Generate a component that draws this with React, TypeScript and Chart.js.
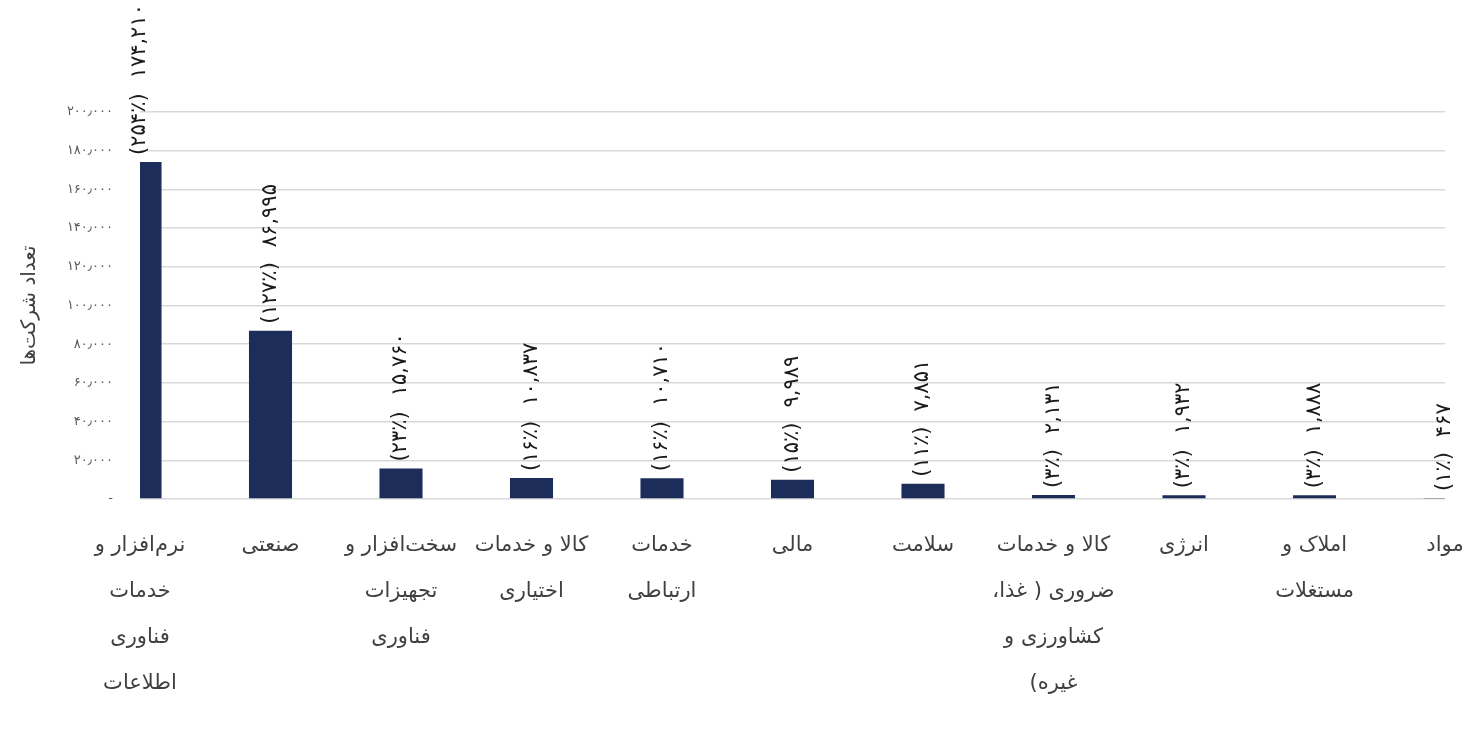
import { useEffect, useRef } from 'react';
import { Chart, registerables } from 'chart.js';
import type { Plugin } from 'chart.js';

Chart.register(...registerables);

// دسته‌بندی صنایع (هر خط برچسب جداگانه)
const categories: string[][] = [
  ['نرم‌افزار و', 'خدمات', 'فناوری', 'اطلاعات'],
  ['صنعتی'],
  ['سخت‌افزار و', 'تجهیزات', 'فناوری'],
  ['کالا و خدمات', 'اختیاری'],
  ['خدمات', 'ارتباطی'],
  ['مالی'],
  ['سلامت'],
  ['کالا و خدمات', 'ضروری ( غذا،', 'کشاورزی و', 'غیره)'],
  ['انرژی'],
  ['املاک و', 'مستغلات'],
  ['مواد'],
];

// تعداد شرکت‌ها
const companyCounts: number[] = [174210, 86995, 15760, 10837, 10710, 9989, 7851, 2131, 1932, 1888, 467];

// درصد نمایش داده شده کنار هر ستون
const percentLabels: number[] = [254, 127, 23, 16, 16, 15, 11, 3, 3, 3, 1];

const yTicks: number[] = [0, 20000, 40000, 60000, 80000, 100000, 120000, 140000, 160000, 180000, 200000];

const FONT = "'DejaVu Sans', sans-serif";

const toFa = (s: string) => s.replace(/\d/g, d => '۰۱۲۳۴۵۶۷۸۹'[Number(d)]);

const formatTick = (v: number) => {
  if (v === 0) return '-';
  return toFa(v.toLocaleString('en-US')).replace(/,/g, '٫');
};

// اعداد و علامت‌ها را تکه‌تکه از چپ به راست می‌کشد
const TOKEN_RE = /[\u06F0-\u06F9,\u066B\u066C]+|./gu;

const drawPieces = (ctx: CanvasRenderingContext2D, text: string, x: number, y: number) => {
  let cx = x;
  (text.match(TOKEN_RE) ?? []).forEach(p => {
    ctx.fillText(p, cx, y);
    cx += ctx.measureText(p).width;
  });
  return cx - x;
};

// برچسب‌های عمودی بالای ستون‌ها
const barLabelPlugin: Plugin<'bar'> = {
  id: 'barLabels',
  afterDatasetsDraw(chart) {
    const ctx = chart.ctx;
    const meta = chart.getDatasetMeta(0);
    ctx.save();
    ctx.font = `21px ${FONT}`;
    ctx.fillStyle = '#1a1a1a';
    ctx.textAlign = 'left';
    ctx.textBaseline = 'middle';
    ctx.direction = 'ltr';
    meta.data.forEach((bar, i) => {
      const { x, y } = bar.getProps(['x', 'y'], true) as { x: number; y: number };
      const pct = `(${toFa(String(percentLabels[i]))}٪)`;
      const val = toFa(companyCounts[i].toLocaleString('en-US'));
      ctx.save();
      ctx.translate(x, y - 7);
      ctx.rotate(-Math.PI / 2);
      const w = drawPieces(ctx, pct, 0, 0);
      drawPieces(ctx, val, w + 15, 0);
      ctx.restore();
    });
    ctx.restore();
  },
};

// برچسب‌های محور افقی (راست به چپ)
const xLabelPlugin: Plugin<'bar'> = {
  id: 'xLabels',
  afterDraw(chart) {
    const ctx = chart.ctx;
    const xScale = chart.scales.x;
    const top = chart.chartArea.bottom + 47;
    ctx.save();
    ctx.font = `21px ${FONT}`;
    ctx.fillStyle = '#404040';
    ctx.textAlign = 'center';
    ctx.textBaseline = 'middle';
    ctx.direction = 'rtl';
    categories.forEach((lines, i) => {
      const cx = xScale.getPixelForValue(i);
      lines.forEach((line, j) => {
        ctx.fillText(line, cx, top + j * 46);
      });
    });
    ctx.restore();
  },
};

export default function App() {
  const canvasRef = useRef<HTMLCanvasElement>(null);
  const chartRef = useRef<Chart<'bar'> | null>(null);

  useEffect(() => {
    if (!canvasRef.current) return;
    const ctx = canvasRef.current.getContext('2d');
    if (!ctx) return;

    if (chartRef.current) chartRef.current.destroy();

    chartRef.current = new Chart(ctx, {
      type: 'bar',
      data: {
        labels: categories.map(lines => lines.join(' ')),
        datasets: [
          {
            label: 'تعداد شرکت‌ها',
            data: companyCounts,
            backgroundColor: '#1c2d5a',
            barPercentage: 0.33,
            categoryPercentage: 1,
          },
        ],
      },
      options: {
        animation: false,
        responsive: true,
        maintainAspectRatio: false,
        layout: { padding: { top: 112, right: 32, bottom: 0, left: 0 } },
        plugins: {
          legend: { display: false },
          tooltip: { enabled: false },
        },
        scales: {
          x: {
            offset: false,
            grid: { display: false },
            border: { display: false },
            ticks: { display: false },
            afterFit: scale => {
              scale.height = 251;
            },
          },
          y: {
            min: 0,
            max: 200000,
            afterBuildTicks: scale => {
              scale.ticks = yTicks.map(v => ({ value: v }));
            },
            afterFit: scale => {
              scale.width = 140;
            },
            grid: { color: '#d9d9d9', lineWidth: 1.5, drawTicks: false },
            border: { display: false },
            ticks: {
              padding: 27,
              color: '#595959',
              font: { family: FONT, size: 13 },
              callback: v => formatTick(Number(v)),
            },
            title: {
              display: true,
              text: 'تعداد شرکت‌ها',
              color: '#404040',
              font: { family: FONT, size: 20 },
              padding: { top: 18, bottom: 0 },
            },
          },
        },
      },
      plugins: [barLabelPlugin, xLabelPlugin],
    });

    return () => {
      if (chartRef.current) {
        chartRef.current.destroy();
        chartRef.current = null;
      }
    };
  }, []);

  return (
    <div style={{ position: 'absolute', left: 0, top: 0, width: 1477, height: 750, background: '#fff' }}>
      <canvas ref={canvasRef}></canvas>
    </div>
  );
}
